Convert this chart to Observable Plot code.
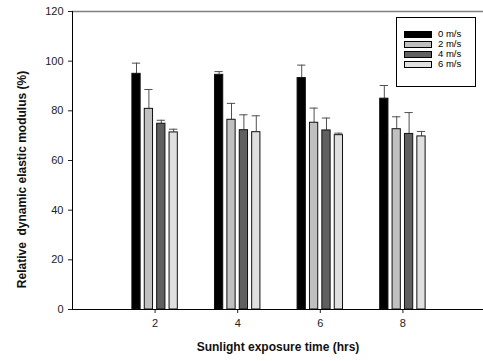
<!DOCTYPE html>
<html>
<head>
<meta charset="utf-8">
<script src="https://cdn.jsdelivr.net/npm/d3@7"></script>
<script src="https://cdn.jsdelivr.net/npm/@observablehq/plot@0.6"></script>
<style>
  html, body { margin: 0; padding: 0; background: #fff; }
  #wrap { position: relative; width: 483px; height: 361px; font-family: "Liberation Sans", Arial, sans-serif; }
  #legend { position: absolute; left: 396px; top: 17px; width: 80px; height: 70px; border: 1px solid #000; background: #fff; box-sizing: border-box; }
  .row { position: absolute; left: 7px; height: 10px; display: flex; align-items: center; }
  .sw { width: 26px; height: 5px; border: 1px solid #000; margin-right: 6px; flex: none; }
  .lab { font-size: 9.5px; color: #000; line-height: 10px; display: block; }
</style>
</head>
<body>
<div id="wrap"></div>
<script>
const times = [2, 4, 6, 8];
const speeds = ["0 m/s", "2 m/s", "4 m/s", "6 m/s"];
const colors = ["#000000", "#c0c0c0", "#606060", "#e0e0e0"];
const mean0 = [94.9, 94.5, 93.2, 84.9];
const err0  = [4.3, 1.3, 5.2, 5.3];
const mean2 = [80.8, 76.4, 75.2, 72.6];
const err2  = [7.8, 6.6, 5.9, 5.0];
const mean4 = [74.8, 72.2, 72.1, 70.7];
const err4  = [1.4, 6.2, 5.0, 8.6];
const mean6 = [71.3, 71.4, 70.2, 69.7];
const err6  = [1.3, 6.6, 0.8, 2.0];
const yTicks = [0, 20, 40, 60, 80, 100, 120];
const xTicks = [2, 4, 6, 8];
const xLabel = "Sunlight exposure time (hrs)";
const yLabel = "Relative  dynamic elastic modulus (%)";

const means = [mean0, mean2, mean4, mean6];
const errs = [err0, err2, err4, err6];
const offsets = [-0.45, -0.15, 0.15, 0.45];
const halfW = 0.1;

const rows = [];
speeds.forEach((s, si) => {
  times.forEach((t, ti) => {
    const c = t + offsets[si];
    rows.push({speed: s, si, x1: c - halfW, x2: c + halfW, xc: c, v: means[si][ti], top: means[si][ti] + errs[si][ti]});
  });
});

const chart = Plot.plot({
  width: 483,
  height: 361,
  marginLeft: 72,
  marginRight: 0,
  marginTop: 11,
  marginBottom: 52,
  style: {fontFamily: "'Liberation Sans', Arial, sans-serif", fontSize: "11px", color: "#222", background: "#fff"},
  x: {domain: [0, 10], range: [72, 485], label: null},
  y: {domain: [0, 120], label: null},
  color: {domain: speeds, range: colors},
  marks: [
    Plot.ruleY([120], {stroke: "#808080", strokeWidth: 1.5}),
    Plot.ruleX(rows, {x: "xc", y1: "v", y2: "top", stroke: "#505050", strokeWidth: 1}),
    Plot.ruleY(rows, {y: "top", x1: "x1", x2: "x2", stroke: "#505050", strokeWidth: 1}),
    Plot.rect(rows, {x1: "x1", x2: "x2", y1: 0, y2: "v", fill: "speed", stroke: "#111", strokeWidth: 1}),
    Plot.axisX({ticks: xTicks, tickSize: 4, tickPadding: 6, label: null, fontSize: 11}),
    Plot.axisY({ticks: yTicks, tickSize: 4, tickPadding: 5, label: null, fontSize: 11}),
    Plot.ruleY([0], {stroke: "#000", strokeWidth: 1}),
    Plot.ruleX([0], {stroke: "#000", strokeWidth: 1}),
    Plot.text([xLabel], {frameAnchor: "bottom", dy: 41, fontWeight: "bold", fontSize: 12, fill: "#111"}),
    Plot.text([yLabel], {frameAnchor: "left", textAnchor: "middle", rotate: -90, dx: -50, dy: 19, fontWeight: "bold", fontSize: 12, fill: "#111"})
  ]
});

const wrap = document.getElementById("wrap");
wrap.appendChild(chart);

const legend = document.createElement("div");
legend.id = "legend";
speeds.forEach((s, i) => {
  const r = document.createElement("div");
  r.className = "row";
  r.style.top = (11 + i * 10) + "px";
  const sw = document.createElement("div");
  sw.className = "sw";
  sw.style.background = colors[i];
  const lb = document.createElement("span");
  lb.className = "lab";
  lb.textContent = s;
  r.appendChild(sw); r.appendChild(lb);
  legend.appendChild(r);
});
wrap.appendChild(legend);
</script>
</body>
</html>
